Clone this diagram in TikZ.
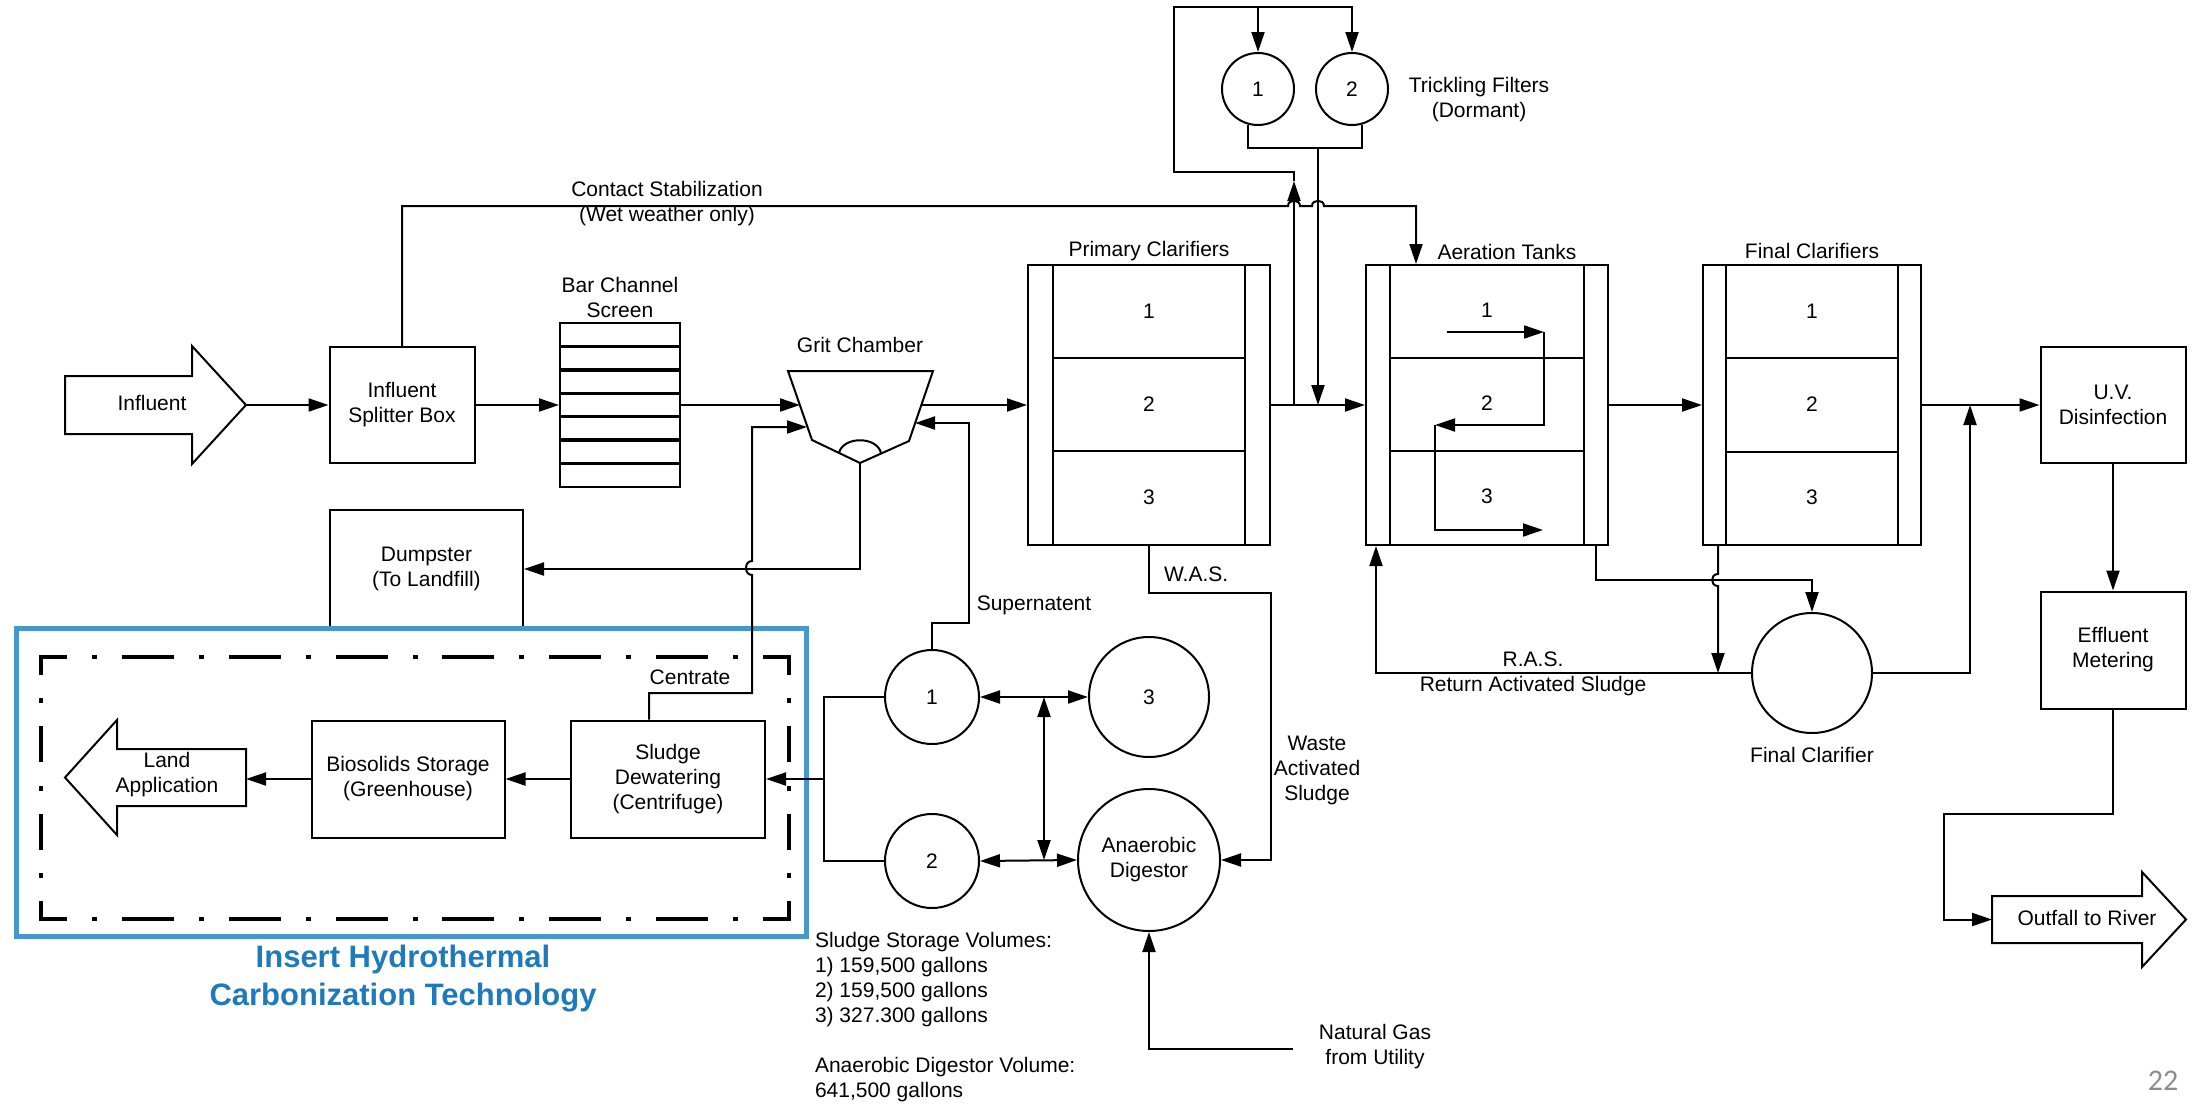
\documentclass[tikz,border=0pt]{standalone}
\usepackage{fontspec}
\setmainfont{Liberation Sans}
\newfontfamily\slidefont{Carlito}
\usepackage{xcolor}
\usetikzlibrary{arrows.meta, positioning, calc}

\definecolor{hydroblue}{RGB}{70,152,204}
\definecolor{hydrotext}{RGB}{30,122,186}
\definecolor{slidegray}{RGB}{140,140,140}

\begin{document}
\begin{tikzpicture}[x=1pt, y=-1pt, line width=2pt,
    font=\fontsize{21}{25}\selectfont,
    % Styles
    unit/.style={draw, rectangle, align=center, inner sep=2pt},
    basin/.style={draw, rectangle, minimum width=242pt, minimum height=280pt},
    tank/.style={draw, circle, align=center, inner sep=0pt},
    flow/.style={-{Triangle[length=20pt, width=13pt]}},
    twoway/.style={{Triangle[length=20pt, width=13pt]}-{Triangle[length=20pt, width=13pt]}},
    lbl/.style={align=center, inner sep=1pt},
    zonelong/.style={line width=3.5pt, line cap=rect, dash pattern=on 48.5pt off 28.43pt on 1.5pt off 28.43pt, dash phase=24.25pt},
    zoneshort/.style={line width=3.5pt, line cap=rect, dash pattern=on 32.5pt off 26.67pt on 1.5pt off 26.67pt, dash phase=16.25pt}
  ]
    \useasboundingbox (0,0) rectangle (2195,1103);

    % === Headworks ===
    \draw (65,376) -- (192,376) -- (192,346) -- (246,405) -- (192,464) -- (192,434) -- (65,434) -- cycle;
    \coordinate (inftip) at (246,405);
    \node[lbl] (influent) at (152,403) {Influent};

    \node[unit, minimum width=145pt, minimum height=116pt] (split) at (402,405) {Influent\\Splitter Box};

    \node[draw, minimum width=120pt, minimum height=164pt] (screen) at (620,405) {};
    \foreach \y in {346.4,369.9,393.3,416.7,440.1,463.6}
      \draw[line width=3.5pt] (560,\y) -- (680,\y);
    \node[lbl] (screenlbl) at (620,297) {Bar Channel\\Screen};

    % grit chamber (hopper with grit well)
    \draw (788,371) -- (933,371) -- (909,441) -- (860,463) -- (812,440) -- cycle;
    \draw (839,453) .. controls (843,436) and (877,436) .. (881,453);
    \coordinate (gritin) at (800,405);
    \coordinate (gritcen) at (807,427);
    \coordinate (gritout) at (921,405);
    \coordinate (gritsup) at (915,423);
    \coordinate (gritbot) at (860,463);
    \node[lbl] (gritlbl) at (860,345) {Grit Chamber};

    \node[unit, minimum width=193pt, minimum height=118pt] (dump) at (426.5,569) {Dumpster\\(To Landfill)};

    % === Basins ===
    \node[basin] (prim) at (1149,405) {};
    \draw (1053,265) -- (1053,545) (1245,265) -- (1245,545);
    \draw (1053,358) -- (1245,358) (1053,451) -- (1245,451);
    \node at (1149,311) {1};
    \node at (1149,404) {2};
    \node at (1149,497) {3};
    \node[lbl] (primlbl) at (1149,251) {Primary Clarifiers};

    \node[basin] (aer) at (1487,405) {};
    \draw (1390,265) -- (1390,545) (1584,265) -- (1584,545);
    \draw (1390,358) -- (1584,358) (1390,451) -- (1584,451);
    \node at (1487,310) {1};
    \node at (1487,403) {2};
    \node at (1487,496) {3};
    \node[lbl] (aerlbl) at (1507,252) {Aeration Tanks};
    \draw[flow] (1447,332) -- (1544,332);
    \draw[flow] (1544,332) |- (1435,425);
    \draw[flow] (1435,425) |- (1543,530);

    \node[basin, minimum width=218pt] (fin) at (1812,405) {};
    \draw (1726,265) -- (1726,545) (1898,265) -- (1898,545);
    \draw (1726,358) -- (1898,358) (1726,452) -- (1898,452);
    \node at (1812,311) {1};
    \node at (1812,404) {2};
    \node at (1812,497) {3};
    \node[lbl] (finlbl) at (1812,251) {Final Clarifiers};

    \node[tank, minimum size=120pt] (fcl) at (1812,673) {};
    \node[lbl] (fcllbl) at (1812,755) {Final Clarifier};

    % === Effluent ===
    \node[unit, minimum width=145pt, minimum height=116pt] (uv) at (2113,405) {U.V.\\Disinfection};
    \node[unit, minimum width=145pt, minimum height=117pt] (meter) at (2113,650) {Effluent\\Metering};
    \draw (1992,896) -- (2142,896) -- (2142,872) -- (2186,919.5) -- (2142,967) -- (2142,943) -- (1992,943) -- cycle;
    \coordinate (outtail) at (1992,919.5);
    \node[lbl] (outfall) at (2087,918) {Outfall to River};

    % === Trickling filters ===
    \node[tank, minimum size=72pt] (tf1) at (1258,89) {1};
    \node[tank, minimum size=72pt] (tf2) at (1352,89) {2};
    \node[lbl] (tflbl) at (1479,100) {Trickling Filters\\(Dormant)};
    \coordinate (tee) at (1294,405);
    \coordinate (tfturn) at (1294,172);
    \coordinate (tftop) at (1174,7);
    \coordinate (tfjoin) at (1318,147.6);

    % === Solids handling ===
    \node[tank, minimum size=94pt] (ss1) at (932,697) {1};
    \node[tank, minimum size=94pt] (ss2) at (932,861) {2};
    \node[tank, minimum size=120pt] (ss3) at (1149,697) {3};
    \node[tank, minimum size=142pt] (dig) at (1149,860) {Anaerobic\\Digestor};
    \coordinate (mixtop) at (1044,697);
    \coordinate (mixbot) at (1044,860);
    \coordinate (manifold) at (824,779);
    \coordinate (gasend) at (1293,1049);
    \node[lbl] (gas) at (1375,1047) {Natural Gas\\from Utility};

    \node[unit, minimum width=194pt, minimum height=117pt] (dew) at (668,779) {Sludge\\Dewatering\\(Centrifuge)};
    \node[unit, minimum width=193pt, minimum height=117pt] (bio) at (408,779) {Biosolids Storage\\(Greenhouse)};
    \draw (65,777.5) -- (117,720) -- (117,749) -- (246,749) -- (246,806) -- (117,806) -- (117,835) -- cycle;
    \coordinate (landtail) at (246,777.5);
    \node[lbl] (land) at (167,775) {Land\\Application};

    \node[lbl, align=left, anchor=west] (notes) at (813,1017) {Sludge Storage Volumes:\\1) 159,500 gallons\\2) 159,500 gallons\\3) 327.300 gallons\\[25pt]Anaerobic Digestor Volume:\\641,500 gallons};

    % === HTC insert zone ===
    \draw[hydroblue, line width=5pt] (16,628.5) rectangle (806,936.5);
    \draw[zonelong] (41,657) -- (789,657);
    \draw[zonelong] (41,919) -- (789,919);
    \draw[zoneshort] (41,657) -- (41,919);
    \draw[zoneshort] (789,657) -- (789,919);
    \node[font=\fontsize{31}{38}\selectfont\bfseries, text=hydrotext, align=center] (hydro) at (403,979) {Insert Hydrothermal\\Carbonization Technology};

    % === Liquid train ===
    \draw[flow] (inftip) -- (split.west);
    \draw[flow] (split.east) -- (screen.west);
    \draw[flow] (screen.east) -- (gritin);
    \draw[flow] (gritout) -- (prim.west);
    \draw[flow] (prim.east) -- (aer.west);
    \draw[flow] (aer.east) -- (fin.west);
    \draw[flow] (fin.east) -- (uv.west);
    \draw[flow] (uv.south) -- (meter.north);
    \draw[flow] (meter.south) |- (1944,814) |- (outtail);

    % contact stabilization bypass (hops over filter lines)
    \draw[flow] (split.north) |- (1288,206) .. controls (1288,199) and (1300,199) .. (1300,206)
      -- (1312,206) .. controls (1312,199) and (1324,199) .. (1324,206) -| ([xshift=-71pt]aer.north);
    \node[lbl] (contactlbl) at (667,204) {Contact Stabilization\\(Wet weather only)};

    % trickling filter loop
    \draw[flow] (tee) -- (1294,181);
    \draw[flow] (1294,181) -- (tfturn) -| (tftop) -| (tf2.north);
    \draw[flow] (tf1.north |- tftop) -- (tf1.north);
    \draw (tf1.-106) -- ++(0,23) -| (tf2.-74);
    \draw[flow] (tfjoin) -- (tfjoin |- prim.east);

    % secondary
    \draw[flow] ([xshift=109pt]aer.south) -- (1596,580) -| (fcl.north);
    \draw[flow] ([xshift=-94pt]fin.south) -- (1718,574) .. controls (1710,574) and (1710,586) .. (1718,586) -- (1718,673);
    \draw[flow] (fcl.west) -| ([xshift=-111pt]aer.south);
    \node[lbl] (raslbl) at (1533,673.5) {R.A.S.\\Return Activated Sludge};
    \coordinate (uvtee) at (1970,405);
    \draw[flow] (fcl.east) -| (uvtee);

    % === Solids connectors ===
    \draw[flow] (gritbot) |- (dump.east);
    \draw[flow] ([xshift=-19pt]dew.north) |- (752,693) -- (752,575)
      .. controls (744,575) and (744,561) .. (752,561) |- (gritcen);
    \node[lbl] (centratelbl) at (690,677) {Centrate};
    \draw[flow] (ss1.north) |- (969,623) |- (gritsup);
    \node[lbl] (superlbl) at (1034,605) {Supernatent};
    \draw[flow] (prim.south) |- (1271,593) |- (dig.east);
    \node[lbl, anchor=west] (waslbl) at (1162,574) {W.A.S.};
    \node[lbl] (wastelbl) at (1317,770) {Waste\\Activated\\Sludge};
    \draw[flow] (gasend) -| (dig.south);

    \draw[twoway] (ss1.east) -- (ss3.west);
    \draw[twoway] (ss2.east) -- (dig.west);
    \draw[twoway] (mixtop) -- (mixbot);
    \draw (ss1.west) -| (manifold) |- (ss2.west);
    \draw[flow] (manifold) -- (dew.east);
    \draw[flow] (dew.west) -- (bio.east);
    \draw[flow] (bio.west) -- (bio.west -| landtail);

    % slide number
    \node[font=\slidefont\fontsize{30}{36}\selectfont, text=slidegray] (pagenum) at (2163,1081) {22};
\end{tikzpicture}
\end{document}
